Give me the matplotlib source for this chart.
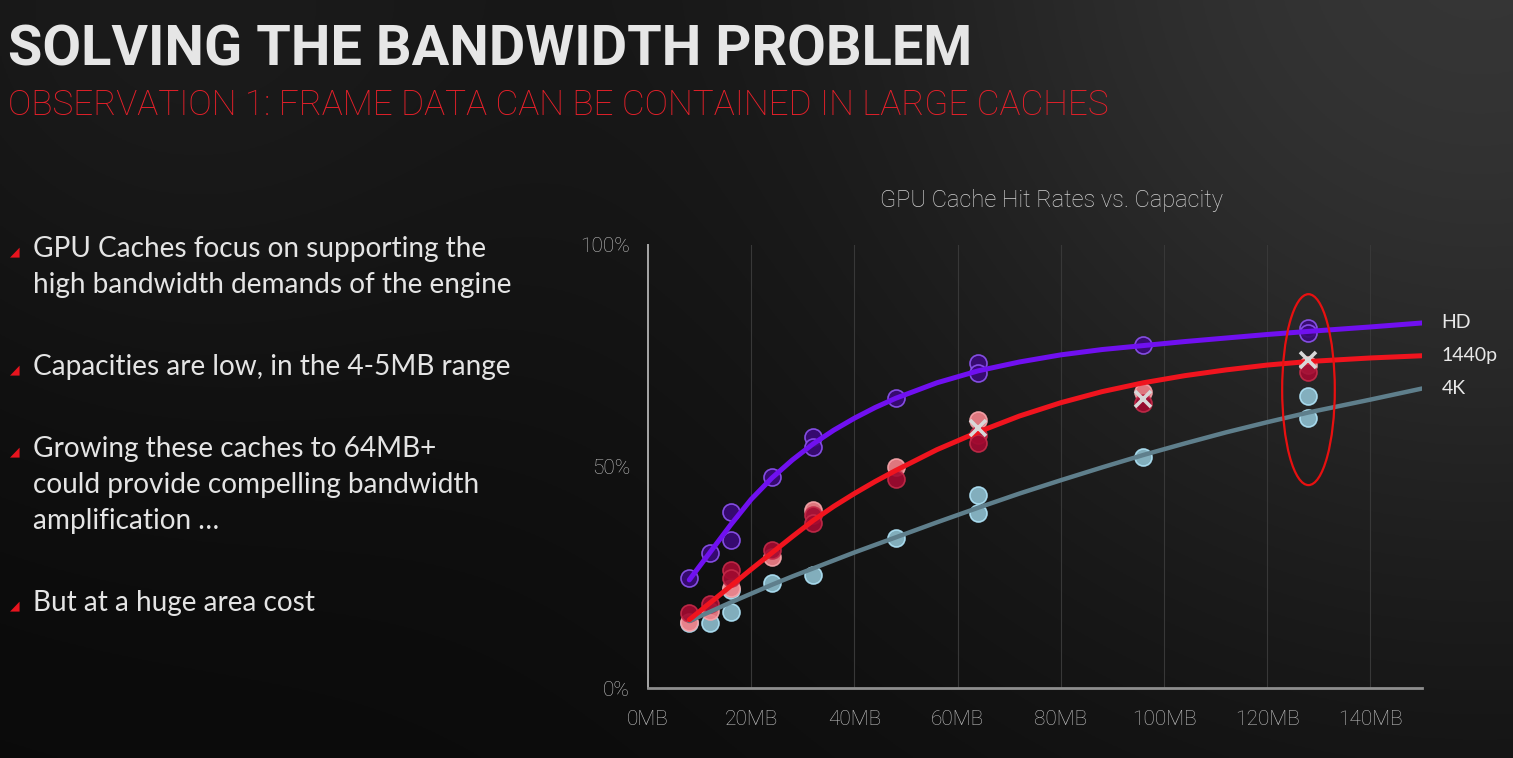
import numpy as np
import matplotlib
matplotlib.use("Agg")
import matplotlib.pyplot as plt
from matplotlib.patches import Ellipse

# ---- data ----
hd_mb = [8, 12, 16, 16, 24, 32, 32, 48, 64, 64, 96, 128, 128]
hd_hit = [24.8, 30.5, 39.7, 33.4, 47.6, 56.7, 54.4, 65.5, 73.4, 71.1, 77.4, 81.3, 80.1]

qhd_dark_mb = [8, 12, 16, 16, 24, 32, 32, 48, 64, 64, 96, 128]
qhd_dark_hit = [16.9, 18.9, 26.6, 24.8, 31.2, 39.1, 37.2, 47.2, 57.1, 55.3, 64.3, 71.3]
qhd_light_mb = [8, 12, 16, 24, 32, 48, 64, 96, 128]
qhd_light_hit = [14.9, 17.4, 22.6, 29.6, 40.2, 49.9, 60.5, 66.8, 73.0]
qhd_x_mb = [64, 96, 128]
qhd_x_hit = [58.7, 65.2, 74.0]

uhd_mb = [8, 12, 16, 16, 24, 32, 48, 64, 64, 96, 128, 128]
uhd_hit = [14.7, 14.7, 17.2, 22.1, 23.7, 25.5, 33.9, 43.6, 39.5, 52.1, 65.9, 60.9]

# trend curves
fit_mb = [8, 12, 16, 20, 24, 28, 32, 36, 40, 44, 48, 56, 64, 72, 80, 88, 96, 104, 112, 120, 128, 140, 150]
hd_fit = [24.4, 30.6, 36.8, 42.6, 47.4, 51.5, 55.1, 58.2, 60.9, 63.3, 65.4, 68.9, 71.6, 73.6, 75.2, 76.4,
          77.3, 78.2, 79.0, 79.8, 80.5, 81.5, 82.4]
qhd_fit = [15.4, 19.2, 23.0, 26.8, 30.5, 34.2, 37.8, 41.0, 43.9, 46.6, 49.1, 53.8, 57.8, 61.4, 64.4, 66.9,
           68.9, 70.5, 71.8, 72.9, 73.7, 74.5, 75.0]
uhd_fit = [15.1, 17.2, 19.3, 21.3, 23.3, 25.2, 27.0, 28.8, 30.6, 32.3, 34.0, 37.4, 40.7, 43.9, 46.9, 49.8,
           52.6, 55.2, 57.7, 60.0, 62.2, 65.1, 67.6]
series_names = ["HD", "1440p", "4K"]

x_ticks = [0, 20, 40, 60, 80, 100, 120, 140]
x_labels = ["0MB", "20MB", "40MB", "60MB", "80MB", "100MB", "120MB", "140MB"]
y_ticks = [0, 50, 100]
y_labels = ["0%", "50%", "100%"]

highlight_mb = 128
highlight_lo, highlight_hi = 45.8, 88.9
highlight_w = 10.2

bullets = [
    ["GPU Caches focus on supporting the", "high bandwidth demands of the engine"],
    ["Capacities are low, in the 4-5MB range"],
    ["Growing these caches to 64MB+", "could provide compelling bandwidth", "amplification \u2026"],
    ["But at a huge area cost"],
]
bullet_baselines = [[257, 292.5], [375], [457, 493, 529], [611]]

W, H = 1513, 758
fig = plt.figure(figsize=(W / 100, H / 100), dpi=100)

# background
bg = fig.add_axes([0, 0, 1, 1])
yy, xx = np.mgrid[0:H:2, 0:W:2]
v = (0.04
     + 0.17 * np.exp(-((xx - 1480) ** 2 + (yy + 60) ** 2) / 700.0 ** 2)
     + 0.06 * np.exp(-((xx - 150) ** 2 + (yy - 10) ** 2) / 420.0 ** 2))
bg.imshow(np.dstack([v, v, v]).clip(0, 1), extent=[0, W, H, 0], aspect="auto")
bg.set_xlim(0, W)
bg.set_ylim(H, 0)
bg.axis("off")

heavy = ["Roboto", "DejaVu Sans"]
thin = ["Roboto", "DejaVu Sans"]
body = ["Lato", "DejaVu Sans"]

fig.text(8 / W, 1 - 65 / H, "SOLVING THE BANDWIDTH PROBLEM", family=heavy,
         weight="bold", fontsize=40.3, color="#e6e6e6", va="baseline", ha="left")
fig.text(8 / W, 1 - 115 / H, "OBSERVATION 1: FRAME DATA CAN BE CONTAINED IN LARGE CACHES", family=thin,
         weight="light", fontsize=25.3, color="#e8202a", va="baseline", ha="left")

for lines, bases in zip(bullets, bullet_baselines):
    fig.text(10 / W, 1 - (bases[0] - 1.5) / H, "\u25e2", family=["DejaVu Sans"], fontsize=9,
             color="#e8141e", va="baseline", ha="left")
    for line, b in zip(lines, bases):
        fig.text(33 / W, 1 - b / H, line, family=body, fontsize=20.2, color="#e4e4e4",
                 va="baseline", ha="left")

fig.text(1051 / W, 1 - 200 / H, "GPU Cache Hit Rates vs. Capacity", family=thin, weight="light",
         fontsize=17, color="#d2d2d2", ha="center", va="center")

# chart
ax = fig.add_axes([648 / W, 1 - 688 / H, (1422 - 648) / W, (688 - 245) / H])
ax.patch.set_alpha(0)
ax.set_xlim(0, 150)
ax.set_ylim(0, 100)
for t in x_ticks[1:]:
    ax.axvline(t, color="#383838", lw=0.8, zorder=0)
for s in ["top", "right"]:
    ax.spines[s].set_visible(False)
ax.spines["left"].set_color("#a8a8a8")
ax.spines["left"].set_linewidth(1.4)
ax.spines["bottom"].set_color("#8e8e8e")
ax.spines["bottom"].set_linewidth(2)
ax.set_xticks(x_ticks, x_labels)
ax.set_yticks(y_ticks, y_labels)
ax.tick_params(length=0, colors="#c0c0c0", labelsize=15)
ax.tick_params(axis="x", pad=16)
ax.tick_params(axis="y", pad=13)
for lab in ax.get_xticklabels() + ax.get_yticklabels():
    lab.set_family(thin)
    lab.set_fontweight("light")

ms = 150
ax.scatter(uhd_mb, uhd_hit, s=ms, facecolor="#8cbccc", edgecolor="#aee2f6", lw=1.2, alpha=0.92, zorder=2)
ax.scatter(qhd_light_mb, qhd_light_hit, s=ms, facecolor="#f08088", edgecolor="#f8a4aa", lw=1.2, alpha=0.92, zorder=3)
ax.scatter(qhd_dark_mb, qhd_dark_hit, s=ms, facecolor="#a00a30", edgecolor="#c42a48", lw=1.2, alpha=0.92, zorder=3)
ax.scatter(hd_mb, hd_hit, s=ms, facecolor="#3a0a78", edgecolor="#8c52f0", lw=1.2, alpha=0.92, zorder=3)

line_kw = dict(solid_capstyle="round", solid_joinstyle="round", zorder=4)
ax.plot(fit_mb, uhd_fit, color="#5f7f8c", lw=3.2, **line_kw)
ax.plot(fit_mb, qhd_fit, color="#f0141e", lw=3.6, **line_kw)
ax.plot(fit_mb, hd_fit, color="#7010f0", lw=3.6, **line_kw)
ax.plot(qhd_x_mb, qhd_x_hit, ls="none", marker="x", ms=11, mew=2.6, color="#d8d8d8", zorder=5)

ax.add_patch(Ellipse((highlight_mb, (highlight_lo + highlight_hi) / 2), highlight_w,
                     highlight_hi - highlight_lo, fill=False, ec="#e81010", lw=1.6, zorder=6))

for name, fit in zip(series_names, [hd_fit, qhd_fit, uhd_fit]):
    ax.annotate(name, (fit_mb[-1], fit[-1]), xytext=(14, 0), textcoords="offset points",
                family=body, fontsize=14, color="#e8e8e8", va="center", ha="left",
                annotation_clip=False)

fig.savefig("out.png", dpi=100)
